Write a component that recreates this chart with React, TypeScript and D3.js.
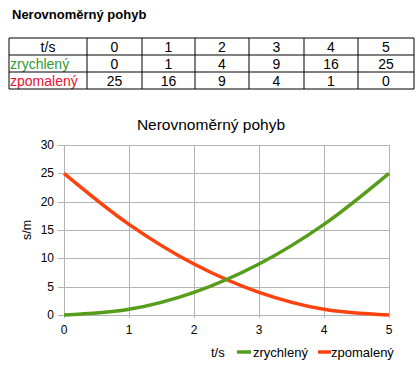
import React from "react";
import * as d3 from "d3";

// table + chart data
const times = [0, 1, 2, 3, 4, 5];
const zrychleny = [0, 1, 4, 9, 16, 25];
const zpomaleny = [25, 16, 9, 4, 1, 0];
const yTicks = [0, 5, 10, 15, 20, 25, 30];

const GREEN = "#579d1c";
const RED = "#ff420e";
const FONT = "Liberation Sans, Arial, sans-serif";

const App = () => {
  const W = 420;
  const H = 370;

  // plot area
  const x = d3.scaleLinear().domain([0, 5]).range([64, 389]);
  const y = d3.scaleLinear().domain([0, 30]).range([315, 145]);

  const line = d3
    .line<number>()
    .x((d, i) => x(times[i]))
    .y((d) => y(d))
    .curve(d3.curveCatmullRom);

  // table columns
  const colEdges = [9, 87, 142, 195, 249, 304, 358, 414];
  const rowEdges = [38, 55, 72, 89];
  const rows = [
    { label: "t/s", color: "#000", values: times, center: true },
    { label: "zrychlený", color: "#339933", values: zrychleny, center: false },
    { label: "zpomalený", color: "#e8112d", values: zpomaleny, center: false },
  ];

  return (
    <svg
      width={W}
      height={H}
      style={{ position: "absolute", left: 0, top: 0, background: "#fff" }}
      fontFamily={FONT}
    >
      <text x={12} y={19} fontSize={13} fontWeight="bold">
        Nerovnoměrný pohyb
      </text>

      {/* table */}
      <g fontSize={14}>
        {rows.map((r, ri) => (
          <g key={ri}>
            <text
              x={r.center ? (colEdges[0] + colEdges[1]) / 2 : colEdges[0] + 1}
              y={rowEdges[ri] + 14}
              textAnchor={r.center ? "middle" : "start"}
              fill={r.color}
            >
              {r.label}
            </text>
            {r.values.map((v, i) => (
              <text
                key={i}
                x={(colEdges[i + 1] + colEdges[i + 2]) / 2}
                y={rowEdges[ri] + 14}
                textAnchor="middle"
              >
                {v}
              </text>
            ))}
          </g>
        ))}
        {rowEdges.map((ry, i) => (
          <line key={"r" + i} x1={colEdges[0]} x2={colEdges[7]} y1={ry} y2={ry} stroke="#000" />
        ))}
        {colEdges.map((cx, i) => (
          <line key={"c" + i} x1={cx} x2={cx} y1={rowEdges[0]} y2={rowEdges[3]} stroke="#000" />
        ))}
      </g>

      {/* chart title */}
      <text x={211} y={130} fontSize={15.5} textAnchor="middle">
        Nerovnoměrný pohyb
      </text>

      {/* grid */}
      <g stroke="#b3b3b3" strokeWidth={1}>
        {yTicks.map((t) => (
          <line key={"y" + t} x1={58} x2={x(5)} y1={Math.round(y(t)) + 0.5} y2={Math.round(y(t)) + 0.5} />
        ))}
        {times.map((t) => (
          <line key={"x" + t} x1={Math.round(x(t)) + 0.5} x2={Math.round(x(t)) + 0.5} y1={y(30)} y2={y(0) + 3} />
        ))}
      </g>

      <g fontSize={12}>
        {yTicks.map((t) => (
          <text key={t} x={54} y={y(t) + 4} textAnchor="end">
            {t}
          </text>
        ))}
        {times.map((t) => (
          <text key={t} x={x(t)} y={334} textAnchor="middle">
            {t}
          </text>
        ))}
      </g>

      <text
        transform={`translate(31,${y(15)}) rotate(-90)`}
        fontSize={12.5}
        textAnchor="middle"
      >
        s/m
      </text>

      <path d={line(zpomaleny) || ""} fill="none" stroke={RED} strokeWidth={3.5} />
      <path d={line(zrychleny) || ""} fill="none" stroke={GREEN} strokeWidth={3.5} />

      {/* legend */}
      <g fontSize={13}>
        <text x={211} y={357}>t/s</text>
        <line x1={237} x2={251} y1={352} y2={352} stroke={GREEN} strokeWidth={3.5} />
        <text x={253} y={357}>zrychlený</text>
        <line x1={318} x2={331} y1={352} y2={352} stroke={RED} strokeWidth={3.5} />
        <text x={331} y={357}>zpomalený</text>
      </g>
    </svg>
  );
};

export default App;
